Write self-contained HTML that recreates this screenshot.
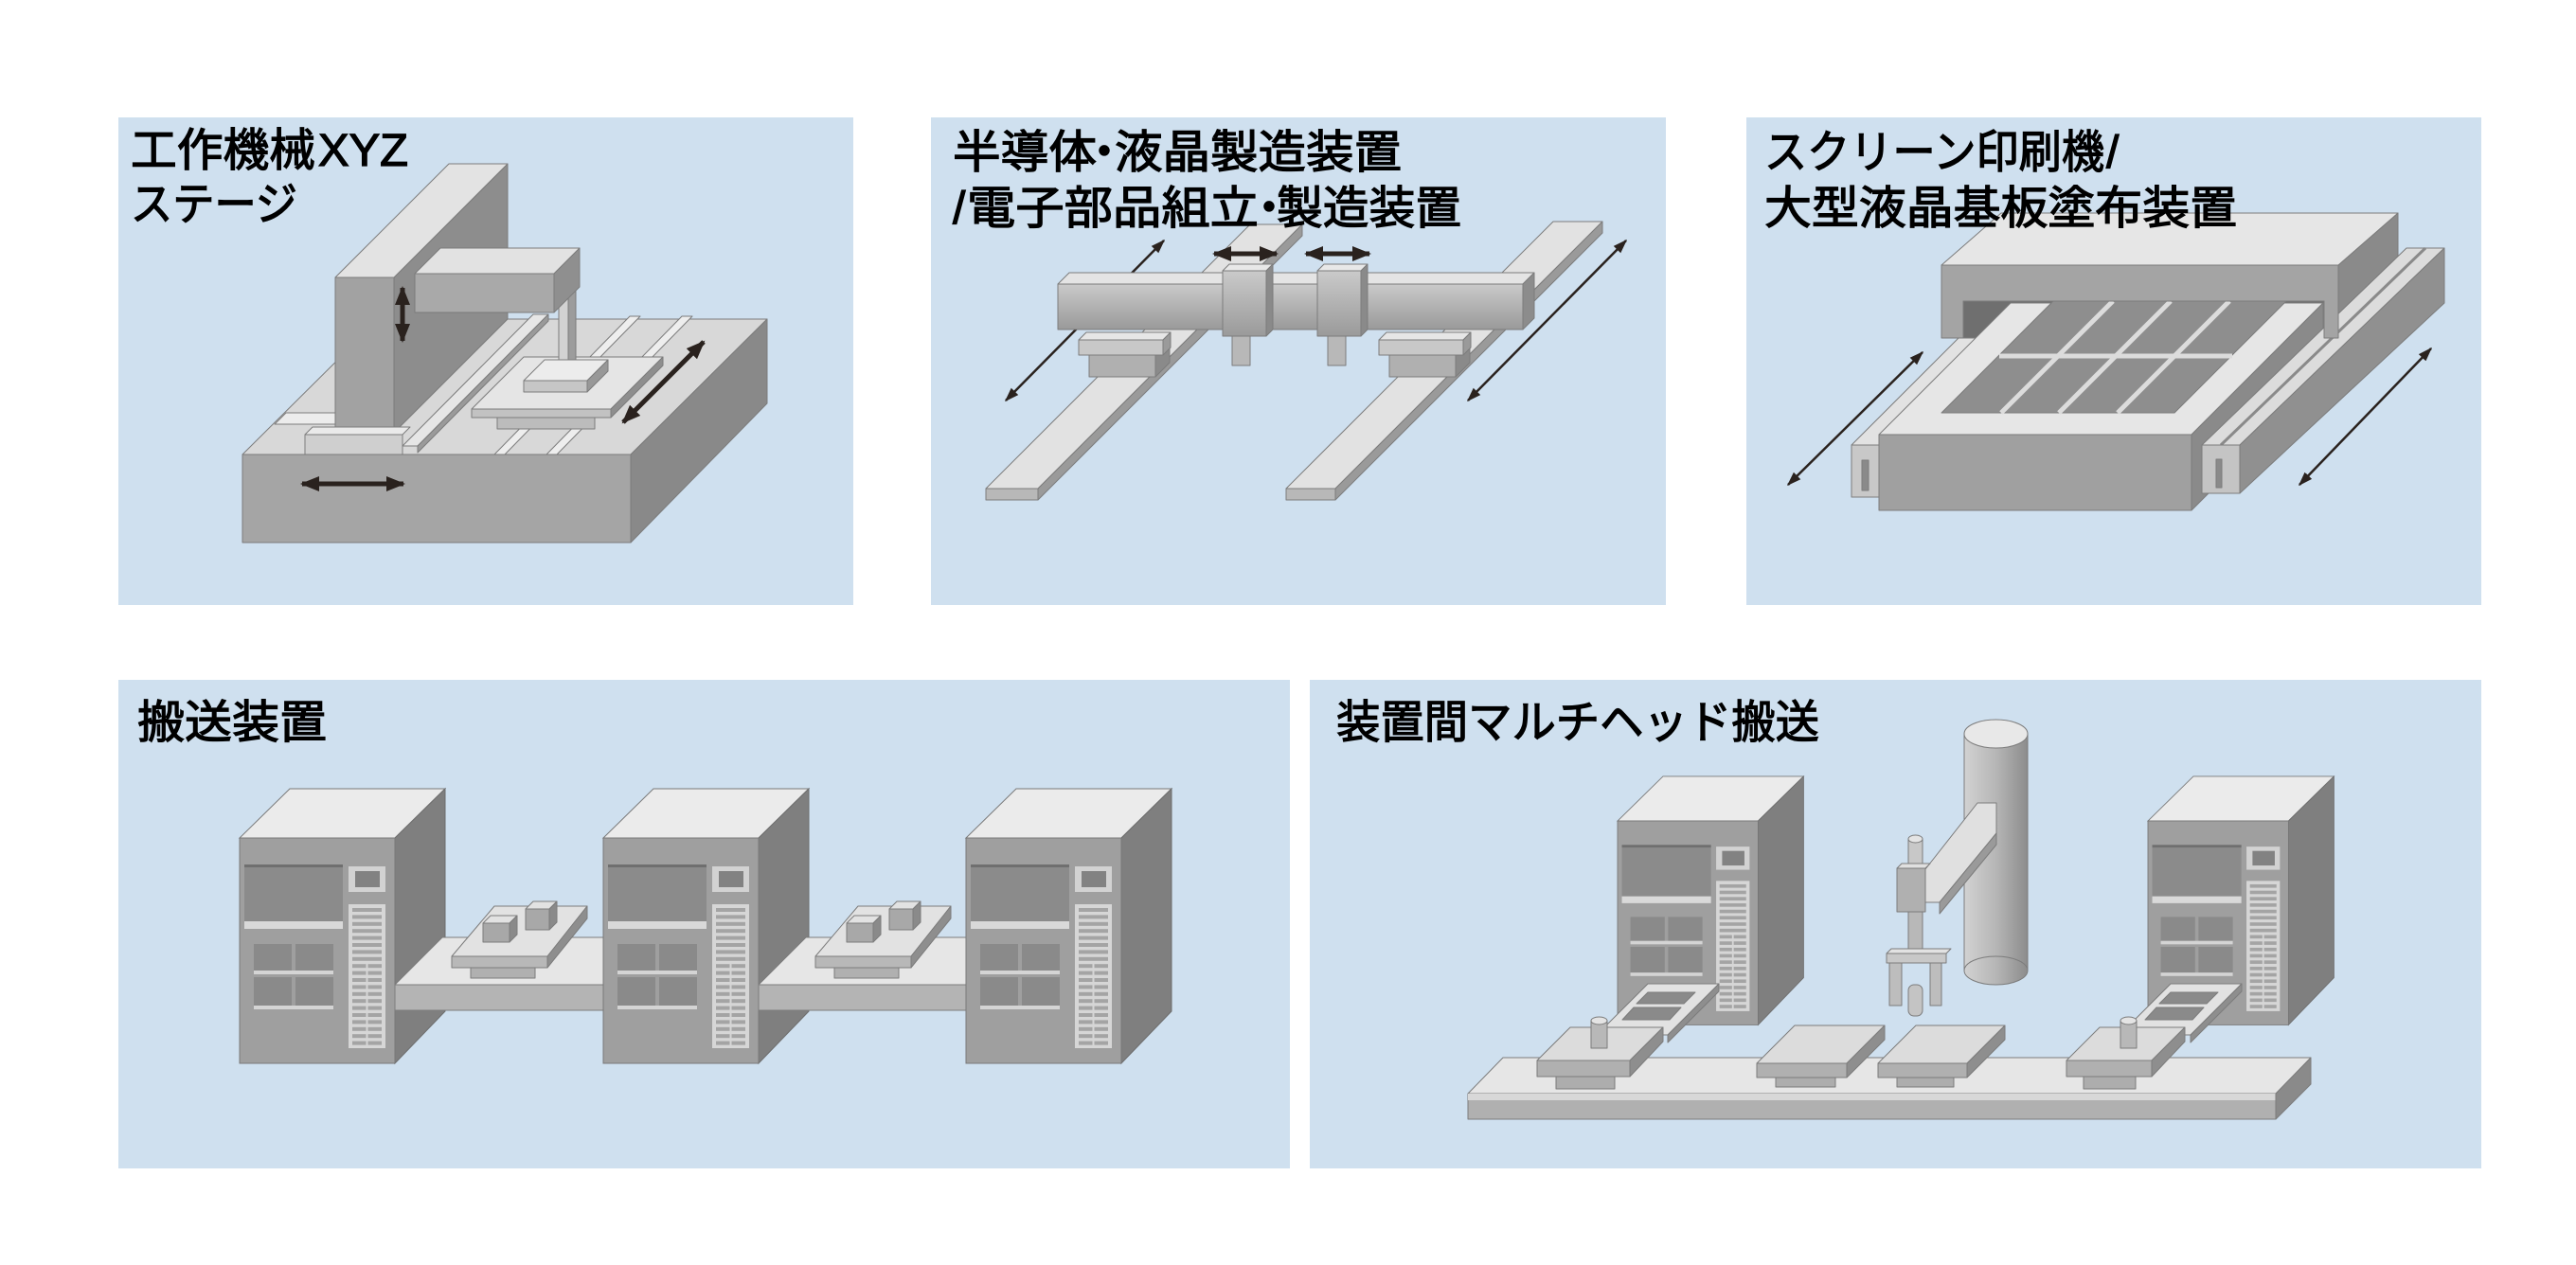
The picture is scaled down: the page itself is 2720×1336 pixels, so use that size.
<!DOCTYPE html>
<html><head><meta charset="utf-8"><style>
html,body{margin:0;padding:0;background:#fff;width:2720px;height:1336px;overflow:hidden}
svg{display:block}
text{font-family:"Liberation Sans","Noto Sans CJK JP",sans-serif;font-size:48px;fill:#000;stroke:#000;stroke-width:1.3px}
</style></head><body>
<svg width="2720" height="1336" viewBox="0 0 2720 1336" xmlns="http://www.w3.org/2000/svg">
<defs>
<marker id="ah" viewBox="0 0 10 10" refX="9" refY="5" markerWidth="4" markerHeight="4" orient="auto-start-reverse"><path d="M0,1 L10,5 L0,9 z" fill="#2a221e"/></marker>
<marker id="ah2" viewBox="0 0 10 10" refX="9" refY="5" markerWidth="6" markerHeight="6" orient="auto-start-reverse"><path d="M0,1.5 L10,5 L0,8.5 z" fill="#2a221e"/></marker>
<linearGradient id="cyl" x1="0" y1="0" x2="1" y2="0"><stop offset="0" stop-color="#d2d2d2"/><stop offset="0.5" stop-color="#b6b6b6"/><stop offset="1" stop-color="#8c8c8c"/></linearGradient>
<linearGradient id="beam" x1="0" y1="0" x2="0" y2="1"><stop offset="0" stop-color="#cacaca"/><stop offset="1" stop-color="#9a9a9a"/></linearGradient>
<g id="tw">
<polygon points="0,0 164,0 217,-52 53,-52" fill="#ebebeb" stroke="#7a7a7a"/>
<polygon points="164,0 217,-52 217,183 164,238" fill="#7f7f7f" stroke="#6e6e6e"/>
<rect x="0" y="0" width="164" height="238" fill="#9f9f9f" stroke="#787878"/>
<rect x="5" y="28" width="104" height="60" fill="#8b8b8b"/>
<rect x="5" y="28" width="104" height="3" fill="#6f6f6f"/>
<rect x="5" y="88" width="104" height="8" fill="#d9d9d9"/>
<rect x="115" y="30" width="39" height="27" fill="#d2d2d2"/>
<rect x="122" y="35" width="26" height="17" fill="#828282"/>
<rect x="115" y="70" width="39" height="152" fill="#d6d6d6"/>
<g fill="#a4a4a4">
<rect x="119" y="74" width="31" height="4"/><rect x="119" y="81.4" width="31" height="4"/><rect x="119" y="88.8" width="31" height="4"/><rect x="119" y="96.2" width="31" height="4"/><rect x="119" y="103.6" width="31" height="4"/><rect x="119" y="111" width="31" height="4"/><rect x="119" y="118.4" width="31" height="4"/><rect x="119" y="125.8" width="31" height="4"/><rect x="119" y="133.2" width="31" height="4"/><rect x="119" y="140.6" width="31" height="4"/><rect x="119" y="148" width="31" height="4"/><rect x="119" y="155.4" width="31" height="4"/><rect x="119" y="162.8" width="31" height="4"/><rect x="119" y="170.2" width="31" height="4"/><rect x="119" y="177.6" width="31" height="4"/><rect x="119" y="185" width="31" height="4"/><rect x="119" y="192.4" width="31" height="4"/><rect x="119" y="199.8" width="31" height="4"/><rect x="119" y="207.2" width="31" height="4"/><rect x="119" y="214.6" width="31" height="4"/>
</g>
<rect x="133.5" y="130" width="2" height="90" fill="#d6d6d6"/>
<rect x="15" y="112" width="40" height="28" fill="#8a8a8a"/>
<rect x="59" y="112" width="40" height="28" fill="#8a8a8a"/>
<rect x="15" y="147" width="40" height="30" fill="#8a8a8a"/>
<rect x="59" y="147" width="40" height="30" fill="#8a8a8a"/>
<rect x="15" y="140" width="84" height="4" fill="#d4d4d4"/>
<rect x="15" y="177" width="84" height="4" fill="#d4d4d4"/>
</g>
</defs>

<rect width="2720" height="1336" fill="#ffffff"/>
<g fill="#cfe0ef">
<rect x="125" y="124" width="776" height="515"/>
<rect x="983" y="124" width="776" height="515"/>
<rect x="1844" y="124" width="776" height="515"/>
<rect x="125" y="718" width="1237" height="516"/>
<rect x="1383" y="718" width="1237" height="516"/>
</g>

<!-- Panel 1 -->
<g stroke="#7c7c7c" stroke-width="1" stroke-linejoin="round">
<polygon points="256,480 666,480 810,337 400,337" fill="#d8d8d8"/>
<polygon points="666,480 810,337 810,426 666,573" fill="#898989"/>
<rect x="256" y="480" width="410" height="93" fill="#a5a5a5"/>
<polygon points="290,448 356,448 368,436 302,436" fill="#ececec"/>
<polygon points="522,480 533,480 676,334 665,334" fill="#eeeeee"/>
<polygon points="577,480 588,480 731,334 720,334" fill="#eeeeee"/>
<polygon points="416,293 536,173 536,337 416,457" fill="#8d8d8d"/>
<polygon points="354,293 416,293 536,173 474,173" fill="#e3e3e3"/>
<rect x="354" y="293" width="62" height="164" fill="#a2a2a2"/>
<polygon points="425,471 441,471 579,332 563,332" fill="#e6e6e6"/>
<polygon points="441,471 579,332 579,339 441,478" fill="#9a9a9a"/>
<polygon points="322,459 425,459 433,451 330,451" fill="#eaeaea"/>
<rect x="322" y="459" width="103" height="21" fill="#cfcfcf"/>
<rect x="525" y="441" width="103" height="12" fill="#bcbcbc"/>
<polygon points="498,432 645,432 700,377 553,377" fill="#e5e5e5"/>
<rect x="498" y="432" width="147" height="9" fill="#c2c2c2"/>
<polygon points="645,432 700,377 700,386 645,441" fill="#8e8e8e"/>
<rect x="590" y="290" width="10" height="92" fill="#d2d2d2"/>
<rect x="600" y="285" width="8" height="97" fill="#9c9c9c"/>
<polygon points="553,402 620,402 642,380 575,380" fill="#ececec"/>
<rect x="553" y="402" width="67" height="12" fill="#c6c6c6"/>
<polygon points="620,402 642,380 642,392 620,414" fill="#989898"/>
<polygon points="438,289 585,289 612,262 465,262" fill="#e2e2e2"/>
<rect x="438" y="289" width="147" height="41" fill="#a9a9a9"/>
<polygon points="585,289 612,262 612,303 585,330" fill="#8f8f8f"/>
</g>
<g stroke="#2a221e" stroke-width="5" marker-start="url(#ah)" marker-end="url(#ah)">
<line x1="425" y1="304" x2="425" y2="360"/>
<line x1="319" y1="511" x2="426" y2="511"/>
<line x1="658" y1="446" x2="743" y2="361"/>
</g>

<!-- Panel 2 -->
<g stroke="#7c7c7c" stroke-width="1" stroke-linejoin="round">
<polygon points="1041,516 1096,516 1375,237 1320,237" fill="#e2e2e2"/>
<polygon points="1096,516 1375,237 1375,249 1096,528" fill="#9a9a9a"/>
<rect x="1041" y="516" width="55" height="12" fill="#b8b8b8"/>
<polygon points="1358,516 1410,516 1692,234 1640,234" fill="#e2e2e2"/>
<polygon points="1410,516 1692,234 1692,246 1410,528" fill="#9a9a9a"/>
<rect x="1358" y="516" width="52" height="12" fill="#b8b8b8"/>
</g>
<g stroke="#2a221e" stroke-width="2.5" marker-start="url(#ah2)" marker-end="url(#ah2)">
<line x1="1062" y1="423" x2="1229" y2="254"/>
<line x1="1550" y1="423" x2="1717" y2="254"/>
</g>
<g stroke="#7c7c7c" stroke-width="1" stroke-linejoin="round">
<rect x="1150" y="375" width="70" height="23" fill="#b0b0b0"/>
<polygon points="1220,375 1235,360 1235,383 1220,398" fill="#8a8a8a"/>
<polygon points="1139,359 1228,359 1236,351 1147,351" fill="#e6e6e6"/>
<rect x="1139" y="359" width="89" height="16" fill="#c8c8c8"/>
<polygon points="1228,359 1236,351 1236,367 1228,375" fill="#9a9a9a"/>
<rect x="1467" y="375" width="70" height="23" fill="#b0b0b0"/>
<polygon points="1537,375 1552,360 1552,383 1537,398" fill="#8a8a8a"/>
<polygon points="1456,359 1545,359 1553,351 1464,351" fill="#e6e6e6"/>
<rect x="1456" y="359" width="89" height="16" fill="#c8c8c8"/>
<polygon points="1545,359 1553,351 1553,367 1545,375" fill="#9a9a9a"/>
<polygon points="1117,300 1608,300 1620,288 1129,288" fill="#e4e4e4"/>
<rect x="1117" y="300" width="491" height="48" fill="url(#beam)"/>
<polygon points="1608,300 1620,288 1620,336 1608,348" fill="#8c8c8c"/>
<rect x="1301" y="355" width="19" height="31" fill="#b8b8b8"/>
<rect x="1402" y="355" width="19" height="31" fill="#b8b8b8"/>
<polygon points="1291,286 1337,286 1344,279 1298,279" fill="#e8e8e8"/>
<rect x="1291" y="286" width="46" height="69" fill="url(#beam)"/>
<polygon points="1337,286 1344,279 1344,348 1337,355" fill="#8a8a8a"/>
<polygon points="1391,286 1437,286 1444,279 1398,279" fill="#e8e8e8"/>
<rect x="1391" y="286" width="46" height="69" fill="url(#beam)"/>
<polygon points="1437,286 1444,279 1444,348 1437,355" fill="#8a8a8a"/>
</g>
<g stroke="#2a221e" stroke-width="5" marker-start="url(#ah)" marker-end="url(#ah)">
<line x1="1282" y1="268" x2="1348" y2="268"/>
<line x1="1379" y1="268" x2="1446" y2="268"/>
</g>

<!-- Panel 3 -->
<g stroke="#7c7c7c" stroke-width="1" stroke-linejoin="round">
<polygon points="1955,470 1984,470 2121,333 2092,333" fill="#e2e2e2"/>
<rect x="1955" y="470" width="29" height="55" fill="#c8c8c8"/>
<rect x="1966" y="486" width="7" height="32" fill="#8a8a8a"/>
<polygon points="2469,280 2532,225 2532,300 2469,357" fill="#8a8a8a"/>
<rect x="2073" y="318" width="381" height="39" fill="#6f6f6f"/>
<polygon points="1984,459 2314,459 2453,320 2123,320" fill="#e6e6e6"/>
<polygon points="2050,436 2296,436 2414,318 2168,318" fill="#8e8e8e"/>
<rect x="1984" y="459" width="330" height="80" fill="#a0a0a0"/>
<polygon points="2314,459 2453,320 2453,400 2314,539" fill="#8a8a8a"/>
</g>
<g stroke="#dcdcdc" stroke-width="5">
<line x1="2111" y1="376" x2="2357" y2="376"/>
<line x1="2113" y1="436" x2="2231" y2="318"/>
<line x1="2174" y1="436" x2="2292" y2="318"/>
<line x1="2236" y1="436" x2="2354" y2="318"/>
</g>
<g stroke="#7c7c7c" stroke-width="1" stroke-linejoin="round">
<polygon points="2325,470 2365,470 2581,262 2541,262" fill="#dcdcdc"/>
<line x1="2345" y1="470" x2="2561" y2="262" stroke="#8a8a8a" stroke-width="3"/>
<polygon points="2365,470 2581,262 2581,320 2365,521" fill="#909090"/>
<rect x="2325" y="470" width="40" height="51" fill="#c4c4c4"/>
<rect x="2340" y="485" width="6" height="30" fill="#8a8a8a"/>
<polygon points="2050,280 2469,280 2532,225 2113,225" fill="#e6e6e6"/>
<path d="M2050,280 H2469 V357 H2454 V318 H2073 V357 H2050 Z" fill="#a4a4a4"/>
</g>
<g stroke="#2a221e" stroke-width="2.5" marker-start="url(#ah2)" marker-end="url(#ah2)">
<line x1="1888" y1="512" x2="2030" y2="372"/>
<line x1="2428" y1="512" x2="2567" y2="368"/>
</g>

<!-- Panel 4 -->
<use href="#tw" transform="translate(253,885)"/>
<g stroke="#7c7c7c" stroke-width="1" stroke-linejoin="round">
<polygon points="417,1040 637,1040 687,990 467,990" fill="#e6e6e6"/>
<rect x="417" y="1040" width="220" height="27" fill="#b4b4b4"/>
<rect x="497" y="1022" width="68" height="11" fill="#b0b0b0"/>
<polygon points="477,1010 578,1010 620,957 522,957" fill="#e2e2e2"/>
<rect x="477" y="1010" width="101" height="12" fill="#b8b8b8"/>
<polygon points="578,1010 620,957 620,970 578,1022" fill="#8e8e8e"/>
<polygon points="510,975 538,975 546,967 518,967" fill="#e2e2e2"/>
<rect x="510" y="975" width="28" height="20" fill="#a8a8a8"/>
<polygon points="538,975 546,967 546,987 538,995" fill="#8a8a8a"/>
<polygon points="555,960 580,960 588,952 563,952" fill="#e2e2e2"/>
<rect x="555" y="960" width="25" height="22" fill="#a8a8a8"/>
<polygon points="580,960 588,952 588,974 580,982" fill="#8a8a8a"/>
</g>
<use href="#tw" transform="translate(637,885)"/>
<g stroke="#7c7c7c" stroke-width="1" stroke-linejoin="round" transform="translate(384,0)">
<polygon points="417,1040 637,1040 687,990 467,990" fill="#e6e6e6"/>
<rect x="417" y="1040" width="220" height="27" fill="#b4b4b4"/>
<rect x="497" y="1022" width="68" height="11" fill="#b0b0b0"/>
<polygon points="477,1010 578,1010 620,957 522,957" fill="#e2e2e2"/>
<rect x="477" y="1010" width="101" height="12" fill="#b8b8b8"/>
<polygon points="578,1010 620,957 620,970 578,1022" fill="#8e8e8e"/>
<polygon points="510,975 538,975 546,967 518,967" fill="#e2e2e2"/>
<rect x="510" y="975" width="28" height="20" fill="#a8a8a8"/>
<polygon points="538,975 546,967 546,987 538,995" fill="#8a8a8a"/>
<polygon points="555,960 580,960 588,952 563,952" fill="#e2e2e2"/>
<rect x="555" y="960" width="25" height="22" fill="#a8a8a8"/>
<polygon points="580,960 588,952 588,974 580,982" fill="#8a8a8a"/>
</g>
<use href="#tw" transform="translate(1020,885)"/>

<!-- Panel 5 -->
<use href="#tw" transform="translate(1708,867) scale(0.905)"/>
<use href="#tw" transform="translate(2268,867) scale(0.905)"/>
<g stroke="#7c7c7c" stroke-width="1" stroke-linejoin="round">
<rect x="2074" y="775" width="67" height="250" fill="url(#cyl)" stroke="none"/>
<ellipse cx="2107.5" cy="1025" rx="33.5" ry="15" fill="url(#cyl)"/>
<line x1="2074" y1="775" x2="2074" y2="1025"/>
<line x1="2141" y1="775" x2="2141" y2="1025"/>
<ellipse cx="2107.5" cy="775" rx="33.5" ry="15" fill="#e8e8e8"/>
<polygon points="2033,918 2088,848 2108,848 2108,880 2048,953 2033,953" fill="#e0e0e0"/>
<polygon points="2048,953 2108,880 2108,892 2048,965" fill="#9a9a9a"/>
<rect x="2015" y="886" width="15" height="31" fill="#c8c8c8"/>
<ellipse cx="2022.5" cy="886" rx="7.5" ry="4" fill="#e4e4e4"/>
<polygon points="2003,917 2033,917 2038,912 2008,912" fill="#e0e0e0"/>
<rect x="2003" y="917" width="30" height="46" fill="#b0b0b0"/>
<rect x="2015" y="963" width="15" height="44" fill="#b8b8b8"/>
<polygon points="1992,1007 2055,1007 2060,1002 1997,1002" fill="#e2e2e2"/>
<rect x="1992" y="1007" width="63" height="10" fill="#c8c8c8"/>
<rect x="1995" y="1017" width="13" height="45" fill="#bdbdbd"/>
<rect x="2038" y="1017" width="12" height="45" fill="#bdbdbd"/>
<rect x="2015" y="1040" width="15" height="33" rx="6" fill="#c4c4c4"/>
<polygon points="1550,1155 2403,1155 2440,1117 1587,1117" fill="#e6e6e6"/>
<rect x="1550" y="1155" width="853" height="27" fill="#b0b0b0"/>
<rect x="1550" y="1155" width="853" height="7" fill="#d8d8d8" stroke="none"/>
<polygon points="2403,1155 2440,1117 2440,1145 2403,1182" fill="#8a8a8a"/>
<polygon points="1686,1093 1761,1093 1815,1039 1740,1039" fill="#e2e2e2"/>
<polygon points="1761,1093 1815,1039 1815,1047 1761,1101" fill="#8e8e8e"/>
<polygon points="1728,1060 1778,1060 1790,1048 1740,1048" fill="#8a8a8a"/>
<polygon points="1713,1077 1763,1077 1775,1064 1725,1064" fill="#8a8a8a"/>
<polygon points="2238,1093 2313,1093 2367,1039 2292,1039" fill="#e2e2e2"/>
<polygon points="2313,1093 2367,1039 2367,1047 2313,1101" fill="#8e8e8e"/>
<polygon points="2280,1060 2330,1060 2342,1048 2292,1048" fill="#8a8a8a"/>
<polygon points="2265,1077 2315,1077 2327,1064 2277,1064" fill="#8a8a8a"/>
<rect x="1643" y="1137" width="62" height="13" fill="#adadad"/>
<polygon points="1623,1120 1721,1120 1756,1085 1658,1085" fill="#dcdcdc"/>
<rect x="1623" y="1120" width="98" height="17" fill="#b0b0b0"/>
<polygon points="1721,1120 1756,1085 1756,1100 1721,1137" fill="#8e8e8e"/>
<rect x="1875" y="1138" width="63" height="10" fill="#adadad"/>
<polygon points="1855,1123 1950,1123 1990,1083 1895,1083" fill="#dcdcdc"/>
<rect x="1855" y="1123" width="95" height="15" fill="#b0b0b0"/>
<polygon points="1950,1123 1990,1083 1990,1098 1950,1138" fill="#8e8e8e"/>
<rect x="2003" y="1138" width="60" height="10" fill="#adadad"/>
<polygon points="1983,1123 2077,1123 2117,1083 2023,1083" fill="#dcdcdc"/>
<rect x="1983" y="1123" width="94" height="15" fill="#b0b0b0"/>
<polygon points="2077,1123 2117,1083 2117,1098 2077,1138" fill="#8e8e8e"/>
<rect x="2200" y="1137" width="55" height="13" fill="#adadad"/>
<polygon points="2182,1120 2272,1120 2307,1085 2217,1085" fill="#dcdcdc"/>
<rect x="2182" y="1120" width="90" height="17" fill="#b0b0b0"/>
<polygon points="2272,1120 2307,1085 2307,1100 2272,1137" fill="#8e8e8e"/>
<rect x="1680" y="1078" width="17" height="29" fill="#b8b8b8"/>
<ellipse cx="1688.5" cy="1078" rx="8.5" ry="4" fill="#e4e4e4"/>
<rect x="2239" y="1078" width="17" height="29" fill="#b8b8b8"/>
<ellipse cx="2247.5" cy="1078" rx="8.5" ry="4" fill="#e4e4e4"/>
</g>

<!-- Titles -->
<text x="138" y="175" textLength="195" lengthAdjust="spacingAndGlyphs">工作機械</text>
<text x="336" y="175" textLength="95" lengthAdjust="spacingAndGlyphs">XYZ</text>
<text x="138" y="232" textLength="176" lengthAdjust="spacingAndGlyphs">ステージ</text>

<text x="1006" y="177" textLength="152" lengthAdjust="spacingAndGlyphs">半導体</text>
<text x="1142" y="177">・</text>
<text x="1177" y="177" textLength="303" lengthAdjust="spacingAndGlyphs">液晶製造装置</text>
<text x="1006" y="236">/</text>
<text x="1021" y="236" textLength="308" lengthAdjust="spacingAndGlyphs">電子部品組立</text>
<text x="1316" y="236">・</text>
<text x="1348" y="236" textLength="195" lengthAdjust="spacingAndGlyphs">製造装置</text>

<text x="1863" y="177" textLength="359" lengthAdjust="spacingAndGlyphs">スクリーン印刷機</text>
<text x="2224" y="177">/</text>
<text x="1863" y="236" textLength="499" lengthAdjust="spacingAndGlyphs">大型液晶基板塗布装置</text>

<text x="145" y="779" textLength="200" lengthAdjust="spacingAndGlyphs">搬送装置</text>

<text x="1411" y="779" textLength="510" lengthAdjust="spacingAndGlyphs">装置間マルチヘッド搬送</text>
</svg>
</body></html>
